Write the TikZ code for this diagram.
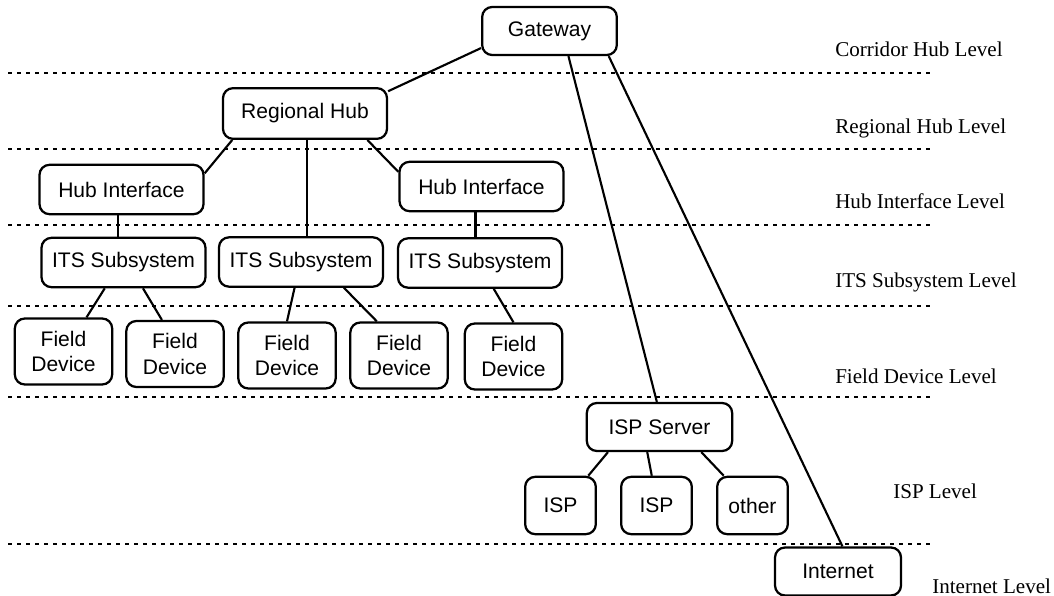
\documentclass[tikz,border=0pt]{standalone}
\usepackage{fontspec}
\setmainfont{Liberation Serif}
\setsansfont{Liberation Sans}
\usepackage{tikz}
\usetikzlibrary{positioning,calc}

\begin{document}
\begin{tikzpicture}[
    x=0.75pt, y=-0.75pt,
    every node/.style={font=\fontsize{15.8}{19}\selectfont},
    unit/.style={rectangle, draw, line width=1.7pt, rounded corners=7.5pt, fill=white, inner sep=1pt, align=center, font=\sffamily\fontsize{15.8}{19}\selectfont},
    gateway/.style={unit, minimum width=101pt, minimum height=36pt},
    hub/.style={unit, minimum width=123pt, minimum height=38pt},
    subsys/.style={unit, minimum width=123pt, minimum height=37pt},
    device/.style={unit, minimum width=73pt, minimum height=49.5pt},
    server/.style={unit, minimum width=109pt, minimum height=36pt},
    provider/.style={unit, minimum width=53pt, minimum height=43pt},
    link/.style={line width=1.6pt},
    levelline/.style={line width=1.3pt, dash pattern=on 3pt off 3.75pt},
    levellabel/.style={anchor=base west, inner sep=0pt},
]
\useasboundingbox (0,0) rectangle (1054,596);

% Level separators
\foreach \y in {73,149,225,306,397,544}
    \draw[levelline] (8,\y) -- (935,\y);

% Level names on the right
\node[levellabel] (lcorr) at (835,56) {Corridor Hub Level};
\node[levellabel] (lreg) at (835,133) {Regional Hub Level};
\node[levellabel] (lhi) at (835,208) {Hub Interface Level};
\node[levellabel] (lits) at (835,287) {ITS Subsystem Level};
\node[levellabel] (lfd) at (835,383) {Field Device Level};
\node[levellabel] (lisp) at (893,498) {ISP Level};
\node[levellabel] (lnet) at (932,593) {Internet Level};

% Corridor hub and regional hub
\node[gateway] (gw) at (549.5,31) {Gateway};
\node[hub] (rh) at (305,113.5) {Regional Hub};

% Hub interfaces
\node[subsys] (hi1) at (121.5,189.5) {Hub Interface};
\node[subsys] (hi2) at (481.5,186.5) {Hub Interface};

% ITS subsystems
\node[subsys] (its1) at (123.5,262.5) {ITS Subsystem};
\node[subsys] (its2) at (301,262) {ITS Subsystem};
\node[subsys] (its3) at (480,263) {ITS Subsystem};

% Field devices
\node[device] (fd1) at (63.5,351.5) {Field\\Device};
\node[device] (fd2) at (175,354) {Field\\Device};
\node[device] (fd3) at (287,355.5) {Field\\Device};
\node[device] (fd4) at (399,355.5) {Field\\Device};
\node[device] (fd5) at (513.5,356.5) {Field\\Device};

% ISP side
\node[server] (isps) at (659.5,427) {ISP Server};
\node[provider] (isp1) at (560.5,505.5) {ISP};
\node[provider] (isp2) at (656.5,505.5) {ISP};
\node[provider] (other) at (752.5,505.5) {other};
\node[gateway, minimum width=94.5pt] (inet) at (838,571.5) {Internet};

% Links
\draw[link] (gw.194) -- (rh.15);
\draw[link] (rh.200) -- (hi1.11);
\draw[link] ([xshift=1.5pt]rh.south) -- ([xshift=1.5pt]rh.south |- its2.north);
\draw[link] (rh.337) -- (hi2.170);
\draw[link] ([xshift=-2.5pt]hi1.south) -- ([xshift=-2.5pt]hi1.south |- its1.north);
\draw[link] ([xshift=-4.5pt]hi2.south) -- ([xshift=-4.5pt]hi2.south |- its3.north);

\draw[link] (its1.234) -- (fd1.56);
\draw[link] (its1.307) -- (fd2.111);
\draw[link] (its2.256) -- (fd3.90);
\draw[link] (its2.329) -- (fd4.123);
\draw[link] (its3.298) -- (fd5.90);

\draw[link] (gw.307) -- (isps.96);
\draw[link] (gw.337) -- (inet.80);
\draw[link] (isps.206) -- (isp1.47);
\draw[link] (isps.244) -- (isp2.99);
\draw[link] (isps.329) -- (other.134);

\end{tikzpicture}
\end{document}
